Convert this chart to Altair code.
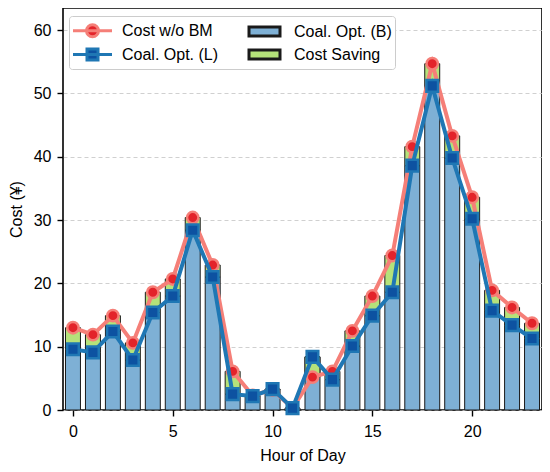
import altair as alt
import pandas as pd

hours = list(range(24))
cost_wo_bm = [13.0, 11.9, 14.9, 10.6, 18.6, 20.7, 30.4, 22.9, 6.1, 2.3, 3.2, 0.3,
              5.2, 6.1, 12.5, 18.0, 24.4, 41.6, 54.7, 43.3, 33.6, 18.9, 16.2, 13.7]
coal_opt_L = [9.6, 9.1, 12.4, 7.9, 15.4, 18.0, 28.4, 21.0, 2.5, 2.2, 3.3, 0.3,
              8.4, 4.8, 10.1, 14.9, 18.6, 38.6, 51.2, 39.8, 30.2, 15.7, 13.4, 11.3]
coal_opt_B = [9.6, 9.1, 12.4, 7.9, 15.4, 18.0, 28.4, 21.0, 2.5, 2.2, 3.3, 0.3,
              8.4, 4.8, 10.1, 14.9, 18.6, 38.6, 51.2, 39.8, 30.2, 15.7, 13.4, 11.3]

series_names = ["Cost w/o BM", "Coal. Opt. (L)", "Coal. Opt. (B)", "Cost Saving"]
fill_colors = ["#e3232a", "#0d52a1", "#7eb0d5", "#b5e27a"]
stroke_colors = ["#f57f78", "#1f77b4", "#1a1a1a", "#1a1a1a"]
legend_stroke_widths = [3, 3, 1, 1]
legend_shapes = [
    "M-1.05,0L2.85,0M0.3,0A0.6,0.6,0,1,1,1.5,0A0.6,0.6,0,1,1,0.3,0Z",
    "M-1.05,0L2.85,0M0.35,-0.55L1.45,-0.55L1.45,0.55L0.35,0.55Z",
    "M-0.65,-0.45L2.45,-0.45L2.45,0.45L-0.65,0.45Z",
    "M-0.65,-0.45L2.45,-0.45L2.45,0.45L-0.65,0.45Z",
]

lines_df = pd.DataFrame({
    "hour": hours + hours,
    "value": cost_wo_bm + coal_opt_L,
    "series": [series_names[0]] * 24 + [series_names[1]] * 24,
})
bars_df = pd.DataFrame({
    "hour": hours + hours,
    "lo": [0.0] * 24 + coal_opt_B,
    "hi": coal_opt_B + cost_wo_bm,
    "series": [series_names[2]] * 24 + [series_names[3]] * 24,
})

FONT = "Liberation Sans"

x_scale = alt.Scale(domain=[-0.5, 23.5], nice=False, zero=False)
y_scale = alt.Scale(domain=[0, 63.5], nice=False)
x_axis = alt.Axis(values=[0, 5, 10, 15, 20], title="Hour of Day", grid=False,
                  labelPadding=7, titlePadding=8)
y_axis = alt.Axis(values=[0, 10, 20, 30, 40, 50, 60], title="Cost (\u00a5)", grid=True,
                  gridDash=[4, 3], gridColor="#c4c4c4", gridWidth=0.8,
                  labelPadding=6, titlePadding=9)

legend = alt.Legend(title=None, orient="none", legendX=6, legendY=8, columns=2,
                    direction="vertical")
fill_enc = alt.Fill("series:N", scale=alt.Scale(domain=series_names, range=fill_colors), legend=legend)
stroke_enc = alt.Stroke("series:N", scale=alt.Scale(domain=series_names, range=stroke_colors), legend=legend)
shape_enc = alt.Shape("series:N", scale=alt.Scale(domain=series_names, range=legend_shapes), legend=legend)
sw_enc = alt.StrokeWidth("series:N", scale=alt.Scale(domain=series_names, range=legend_stroke_widths), legend=legend)

bars = alt.Chart(bars_df).transform_calculate(
    x0="datum.hour - 0.375", x1="datum.hour + 0.375"
).mark_bar(strokeWidth=1).encode(
    x=alt.X("x0:Q", scale=x_scale, axis=x_axis),
    x2="x1:Q",
    y=alt.Y("lo:Q", scale=y_scale, axis=y_axis),
    y2="hi:Q",
    fill=fill_enc,
    stroke=stroke_enc,
)

def line_layer(name, shape):
    base = alt.Chart(lines_df).transform_filter(alt.datum.series == name)
    ln = base.mark_line(strokeWidth=4).encode(
        x=alt.X("hour:Q", scale=x_scale, axis=x_axis),
        y=alt.Y("value:Q", scale=y_scale, axis=y_axis),
        stroke=stroke_enc,
        order="hour:Q",
    )
    pts = base.mark_point(filled=True, shape=shape, size=135 if shape == "square" else 130,
                          strokeWidth=2.5, opacity=1).encode(
        x=alt.X("hour:Q", scale=x_scale, axis=x_axis),
        y=alt.Y("value:Q", scale=y_scale, axis=y_axis),
        fill=fill_enc,
        stroke=stroke_enc,
    )
    return ln + pts

legend_layer = alt.Chart(lines_df).transform_filter("false").mark_point(
    filled=True, opacity=1).encode(
    x=alt.X("hour:Q", scale=x_scale, axis=x_axis),
    y=alt.Y("value:Q", scale=y_scale, axis=y_axis),
    fill=fill_enc, stroke=stroke_enc, shape=shape_enc, strokeWidth=sw_enc,
)

chart = alt.layer(
    bars,
    line_layer(series_names[0], "circle"),
    line_layer(series_names[1], "square"),
    legend_layer,
).properties(
    width=479, height=402,
    autosize=alt.AutoSizeParams(type="none"),
    padding={"left": 55, "top": 0, "right": 0, "bottom": 54},
).configure_view(
    stroke="black", strokeWidth=1.6
).configure_axis(
    domain=False, tickColor="black", tickWidth=1.4, tickSize=6,
    labelFont=FONT, labelFontSize=16, labelColor="black",
    titleFont=FONT, titleFontSize=16, titleFontWeight="normal", titleColor="black",
).configure_legend(
    labelFont=FONT, labelFontSize=16, labelColor="black",
    symbolSize=400, labelOffset=27, columnPadding=24,
    rowPadding=0, padding=3, strokeColor="#cccccc", fillColor="white",
    cornerRadius=3, symbolOpacity=1,
)

chart.save("out.html", embed_options={"renderer": "svg", "actions": False})
